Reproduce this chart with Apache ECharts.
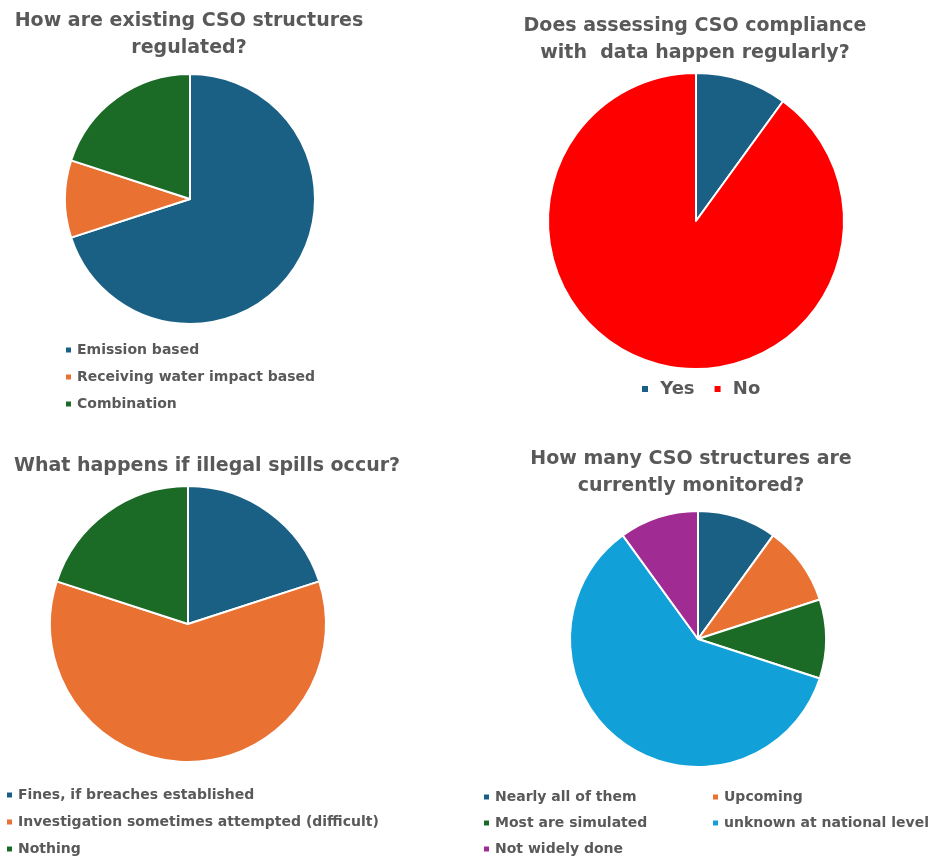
<!DOCTYPE html>
<html>
<head>
<meta charset="utf-8">
<script src="https://cdn.jsdelivr.net/npm/echarts@6/dist/echarts.min.js"></script>
<style>
  html, body { margin: 0; padding: 0; background: #fff; }
  #main { width: 929px; height: 857px; }
</style>
</head>
<body>
<div id="main"></div>
<script>
// chart data
let regNames = ['Emission based', 'Receiving water impact based', 'Combination']
let regValues = [7, 1, 2]

let assessNames = ['Yes', 'No']
let assessValues = [1, 9]

let spillNames = ['Fines, if breaches established', 'Investigation sometimes attempted (difficult)', 'Nothing']
let spillValues = [2, 6, 2]

let monNames = ['Nearly all of them', 'Upcoming', 'Most are simulated', 'unknown at national level', 'Not widely done']
let monValues = [1, 1, 1, 6, 1]

let blue = '#1a6085', orange = '#e97132', green = '#1b6b26', cyan = '#11a0d8', purple = '#a02b93', red = '#ff0000'
let textColor = '#595959'
let font = 'DejaVu Sans'

function toData(names, values, colors) {
	return names.map(function(n, i) {
		return { name: n, value: values[i], itemStyle: { color: colors[i] } }
	})
}

function pie(center, r, data) {
	return {
		type: 'pie',
		center: center,
		radius: r,
		startAngle: 90,
		label: { show: false },
		labelLine: { show: false },
		emphasis: { disabled: true },
		itemStyle: { borderColor: '#fff', borderWidth: 2 },
		data: data
	}
}

function legend(left, top, names, opts) {
	return Object.assign({
		left: left,
		top: top,
		height: 80,
		padding: 0,
		orient: 'vertical',
		icon: 'rect',
		itemWidth: 7,
		itemHeight: 7,
		itemGap: 13,
		selectedMode: false,
		data: names,
		textStyle: { color: textColor, fontFamily: font, fontWeight: 'bold', fontSize: 14, lineHeight: 14 }
	}, opts || {})
}

function title(text, x, top) {
	return {
		text: text,
		left: x,
		top: top,
		textAlign: 'center',
		textStyle: { color: textColor, fontFamily: font, fontWeight: 'bold', fontSize: 19, lineHeight: 27 }
	}
}

let chart = echarts.init(document.getElementById('main'))
chart.setOption({
	backgroundColor: '#fff',
	animation: false,
	title: [
		title('How are existing CSO structures\nregulated?', 184, 3),
		title('Does assessing CSO compliance\nwith  data happen regularly?', 690, 8),
		title('What happens if illegal spills occur?', 202, 448),
		title('How many CSO structures are\ncurrently monitored?', 686, 441)
	],
	legend: [
		legend(64, 343, regNames),
		legend(640, 380, assessNames, {
			orient: 'horizontal', itemWidth: 8, itemHeight: 8, itemGap: 18,
			formatter: ' {name}',
			textStyle: { color: textColor, fontFamily: font, fontWeight: 'bold', fontSize: 18, lineHeight: 18 }
		}),
		legend(5, 788, spillNames),
		legend(482, 790, [monNames[0], monNames[2], monNames[4]], { itemGap: 12 }),
		legend(711, 790, [monNames[1], monNames[3]], { itemGap: 12 })
	],
	series: [
		pie([190, 199], 125, toData(regNames, regValues, [blue, orange, green])),
		pie([696, 221], 148, toData(assessNames, assessValues, [blue, red])),
		pie([188, 624], 138, toData(spillNames, spillValues, [blue, orange, green])),
		pie([698, 639], 128, toData(monNames, monValues, [blue, orange, green, cyan, purple]))
	]
})
</script>
</body>
</html>
